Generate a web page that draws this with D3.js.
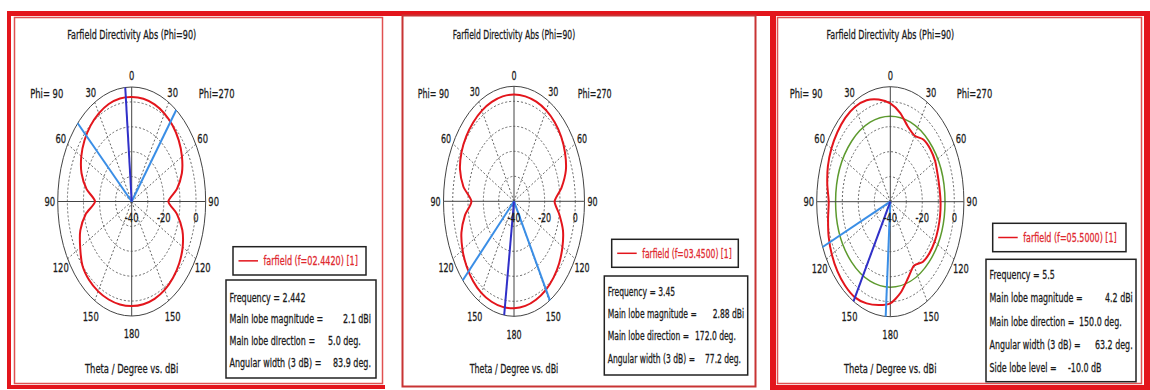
<!DOCTYPE html>
<html>
<head>
<meta charset="utf-8">
<script src="https://cdn.jsdelivr.net/npm/d3@7"></script>
<style>
  body { margin: 0; background: #fff; }
  text { font-family: "DejaVu Sans", "Liberation Sans", sans-serif; stroke-width: 0.3; }
</style>
</head>
<body>
<svg id="chart" width="1150" height="390"></svg>
<script>
// Cut angle, counter-clockwise from theta = 0 at the top.
// 0..180 is the Phi=90 half (left), 180..360 the Phi=270 half (right).
const cutAngles = [0,10,20,30,40,50,60,70,80,90,100,110,120,130,140,150,160,170,
                   180,190,200,210,220,230,240,250,260,270,280,290,300,310,320,330,340,350];

// Directivity (dBi) along the cut, one list per frequency
const gain2442 = [2.0,2.05,1.7,0.9,-0.2,-1.7,-3.8,-6.8,-11.5,-17.2,-11.0,-6.0,-3.0,0.0,1.2,1.7,1.9,2.0,
                  2.0,1.9,1.6,1.0,0.0,-1.4,-3.4,-6.5,-11.5,-17.2,-11.5,-6.8,-3.9,-1.8,-0.3,0.8,1.5,1.9];
const gain3450 = [2.7,2.6,2.3,1.9,1.3,0.6,-0.5,-2.5,-6.5,-12.2,-7.5,-3.5,-1.2,0.4,1.6,2.4,2.75,2.88,
                  2.8,2.5,1.9,1.1,0.0,-1.5,-3.5,-6.0,-10.0,-13.5,-8.5,-4.0,-1.5,0.2,1.3,2.0,2.4,2.6];
const gain5500 = [-0.7,1.5,3.2,3.9,3.8,3.2,2.5,1.5,0.0,-1.5,-0.5,1.0,2.2,3.2,3.9,4.2,3.3,2.0,
                  0.7,-3.0,-7.5,-10.5,-8.5,-8.0,-8.0,-8.2,-8.4,-8.6,-8.8,-8.5,-7.6,-7.3,-7.6,-9.5,-8.0,-4.0];

// Radial (dB) axis
const radialDomain = [-40, 6];
const radialTicks = [-40, -20, 0];
const gridRings = [-30, -20, -10, 0];
const spokeAngles = [30, 60, 120, 150, 210, 240, 300, 330];
const thetaLabelAngles = [0, 30, 60, 90, 120, 150, 180, 210, 240, 270, 300, 330];

// Result summary per frequency
const freqLabels = ["2.442", "3.45", "5.5"];
const legendLabels = ["farfield (f=02.4420) [1]", "farfield (f=03.4500) [1]", "farfield (f=05.5000) [1]"];
const mainLobeMag = ["2.1 dBi", "2.88 dBi", "4.2 dBi"];
const mainLobeDir = [5.0, 172.0, 150.0];
const angularWidth = [83.9, 77.2, 63.2];
const beamEdges = [[46.9, 323.0], [133.4, 210.6], [113.2, 176.4]];
const sideLobeLevel = [null, null, -10.0];

const gains = [gain2442, gain3450, gain5500];

// Panel layout
const panels = [
  { cx: 131.7, cy: 201.5, ry: 114.5, sx: 0.646,
    legend: [233, 246.7, 366, 275], info: [226, 280, 376, 378], infoLead: 21.7, infoTop: 301.7,
    valueX: [117, 102, 107, 0] },
  { cx: 514.0, cy: 201.3, ry: 115, sx: 0.613,
    legend: [611.7, 239.3, 738.3, 267.3], info: [604.3, 276, 747.7, 375], infoLead: 22.2, infoTop: 296,
    valueX: [108.4, 90.7, 100.7, 0] },
  { cx: 890.3, cy: 201.7, ry: 115, sx: 0.640,
    legend: [992.7, 223.3, 1126, 251.7], info: [986, 259.3, 1136, 381.7], infoLead: 23.1, infoTop: 279.3,
    valueX: [119, 93, 109, 82] }
];

const RED = "#e3151c";
const svg = d3.select("#chart");

// ---- outer frames ----
const frame = svg.append("g");
frame.append("rect").attr("x", 7).attr("y", 11).attr("width", 1143).attr("height", 5).attr("fill", RED);
frame.append("rect").attr("x", 7).attr("y", 11).attr("width", 4).attr("height", 378).attr("fill", RED);
frame.append("rect").attr("x", 7).attr("y", 385).attr("width", 378).attr("height", 4).attr("fill", RED);
frame.append("rect").attr("x", 14.5).attr("y", 17.5).attr("width", 368).attr("height", 366)
  .attr("fill", "none").attr("stroke", "#e05050").attr("stroke-width", 1.5);
frame.append("rect").attr("x", 402.5).attr("y", 15.5).attr("width", 353).attr("height", 371)
  .attr("fill", "none").attr("stroke", "#c83434").attr("stroke-width", 2);
frame.append("rect").attr("x", 770).attr("y", 11).attr("width", 6).attr("height", 378).attr("fill", RED);
frame.append("rect").attr("x", 1144).attr("y", 11).attr("width", 6).attr("height", 378).attr("fill", RED);
frame.append("rect").attr("x", 770).attr("y", 385).attr("width", 380).attr("height", 5).attr("fill", RED);
frame.append("rect").attr("x", 777.5).attr("y", 17.5).attr("width", 364).attr("height", 366)
  .attr("fill", "none").attr("stroke", "#e05050").attr("stroke-width", 1.5);

panels.forEach((p, i) => drawPanel(p, i));

function drawPanel(p, i) {
  const g = svg.append("g");
  const rx = p.ry * p.sx, ry = p.ry;
  const r = d3.scaleLinear().domain(radialDomain).range([0, 1]).clamp(true);
  const rad = d => d * Math.PI / 180;
  const px = (a, v) => p.cx - Math.sin(rad(a)) * r(v) * rx;
  const py = (a, v) => p.cy - Math.cos(rad(a)) * r(v) * ry;

  const label = (x, y, s, size, anchor, fill) => g.append("text")
    .attr("transform", `translate(${x},${y}) scale(${p.sx},1)`)
    .attr("text-anchor", anchor || "middle")
    .attr("font-size", size)
    .attr("fill", fill || "#1a1a1a").attr("stroke", fill || "#1a1a1a")
    .text(s);

  // title
  label(p.cx, 39, "Farfield Directivity Abs (Phi=90)", 12.5);

  // dotted grid rings and spokes
  g.selectAll(".ring").data(gridRings).join("ellipse")
    .attr("cx", p.cx).attr("cy", p.cy)
    .attr("rx", d => r(d) * rx).attr("ry", d => r(d) * ry)
    .attr("fill", "none").attr("stroke", "#666").attr("stroke-width", 1)
    .attr("stroke-dasharray", "2,2");
  g.selectAll(".spoke").data(spokeAngles).join("line")
    .attr("x1", p.cx).attr("y1", p.cy)
    .attr("x2", d => px(d, radialDomain[1])).attr("y2", d => py(d, radialDomain[1]))
    .attr("stroke", "#666").attr("stroke-width", 1).attr("stroke-dasharray", "2,2");

  // side lobe level ring
  if (sideLobeLevel[i] !== null) {
    const peak = d3.max(gains[i]);
    const sll = peak + sideLobeLevel[i];
    g.append("ellipse").attr("cx", p.cx).attr("cy", p.cy)
      .attr("rx", r(sll) * rx).attr("ry", r(sll) * ry)
      .attr("fill", "none").attr("stroke", "#5d9a2e").attr("stroke-width", 1.5);
  }

  // outer boundary and main axes
  g.append("ellipse").attr("cx", p.cx).attr("cy", p.cy).attr("rx", rx).attr("ry", ry)
    .attr("fill", "none").attr("stroke", "#444").attr("stroke-width", 1);
  g.append("line").attr("x1", px(90, radialDomain[1])).attr("y1", p.cy)
    .attr("x2", px(270, radialDomain[1])).attr("y2", p.cy).attr("stroke", "#444");
  g.append("line").attr("x1", p.cx).attr("y1", py(0, radialDomain[1]))
    .attr("x2", p.cx).attr("y2", py(180, radialDomain[1])).attr("stroke", "#444");

  // pattern
  const pts = cutAngles.map((a, k) => [px(a, gains[i][k]), py(a, gains[i][k])]);
  g.append("path").attr("d", d3.line().curve(d3.curveCardinalClosed.tension(0.3))(pts))
    .attr("fill", "none").attr("stroke", RED).attr("stroke-width", 2);

  // beam markers
  beamEdges[i].forEach(a => g.append("line")
    .attr("x1", p.cx).attr("y1", p.cy)
    .attr("x2", px(a, radialDomain[1])).attr("y2", py(a, radialDomain[1]))
    .attr("stroke", "#3a8ee6").attr("stroke-width", 2));
  g.append("line").attr("x1", p.cx).attr("y1", p.cy)
    .attr("x2", px(mainLobeDir[i], radialDomain[1])).attr("y2", py(mainLobeDir[i], radialDomain[1]))
    .attr("stroke", "#3030c8").attr("stroke-width", 2);

  // theta labels
  thetaLabelAngles.forEach(a => {
    const lx = p.cx - Math.sin(rad(a)) * (rx + 8);
    const ly = p.cy - Math.cos(rad(a)) * (ry + 11.5) + Math.max(0, -Math.cos(rad(a))) * 6;
    label(lx, ly + 4.7, a <= 180 ? a : 360 - a, 13);
  });
  label(p.cx - 131.5 * p.sx, 98, "Phi= 90", 13);
  label(p.cx + 131.5 * p.sx, 98, "Phi=270", 13);

  // radial tick labels
  radialTicks.forEach(t => label(p.cx + r(t) * rx, p.cy + 20.5, t, 13));

  label(p.cx, 373, "Theta / Degree vs. dBi", 13);

  // legend
  const [lx0, ly0, lx1, ly1] = p.legend;
  g.append("rect").attr("x", lx0).attr("y", ly0).attr("width", lx1 - lx0).attr("height", ly1 - ly0)
    .attr("fill", "#fff").attr("stroke", "#222").attr("stroke-width", 1.5);
  const lmid = (ly0 + ly1) / 2;
  g.append("line").attr("x1", lx0 + 5.5).attr("x2", lx0 + 25).attr("y1", lmid).attr("y2", lmid)
    .attr("stroke", RED).attr("stroke-width", 1.5);
  label(lx0 + 30.5, lmid + 4.5, legendLabels[i], 12.5, "start", "#e0282e");

  // result box
  const [ix0, iy0, ix1, iy1] = p.info;
  const clipId = "infoclip" + i;
  svg.append("clipPath").attr("id", clipId).append("rect")
    .attr("x", ix0).attr("y", iy0).attr("width", ix1 - ix0).attr("height", iy1 - iy0);
  g.append("rect").attr("x", ix0).attr("y", iy0).attr("width", ix1 - ix0).attr("height", iy1 - iy0)
    .attr("fill", "#fff").attr("stroke", "#222").attr("stroke-width", 1.5);
  const ig = g.append("g").attr("clip-path", `url(#${clipId})`);
  const rows = [
    ["Frequency = " + freqLabels[i], null],
    ["Main lobe magnitude =", mainLobeMag[i]],
    ["Main lobe direction =", mainLobeDir[i].toFixed(1) + " deg."],
    ["Angular width (3 dB) =", angularWidth[i].toFixed(1) + " deg."]
  ];
  if (sideLobeLevel[i] !== null) rows.push(["Side lobe level =", sideLobeLevel[i].toFixed(1) + " dB"]);
  rows.forEach((row, k) => {
    const y = p.infoTop + k * p.infoLead;
    ig.append("text").attr("transform", `translate(${ix0 + 3.5},${y}) scale(${p.sx},1)`)
      .attr("font-size", 12.4).attr("fill", "#1a1a1a").attr("stroke", "#1a1a1a").text(row[0]);
    if (row[1]) ig.append("text").attr("transform", `translate(${ix0 + p.valueX[k - 1]},${y}) scale(${p.sx},1)`)
      .attr("font-size", 12.4).attr("fill", "#1a1a1a").attr("stroke", "#1a1a1a").text(row[1]);
  });
}
</script>
</body>
</html>
